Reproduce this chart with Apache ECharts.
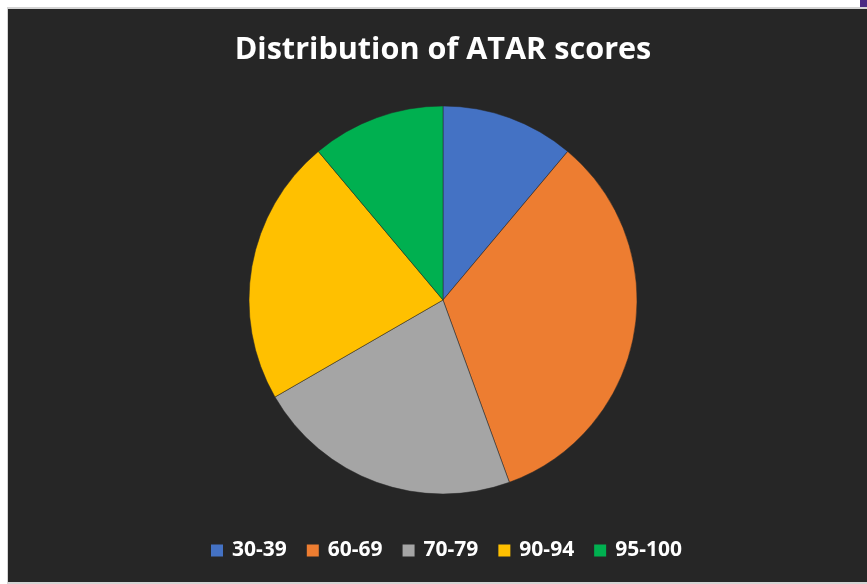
<!DOCTYPE html>
<html>
<head>
<meta charset="utf-8">
<script src="https://cdn.jsdelivr.net/npm/echarts@6/dist/echarts.min.js"></script>
<style>
html,body{margin:0;padding:0;background:#ffffff;}
#chart{width:867px;height:584px;}
</style>
</head>
<body>
<div id="chart"></div>
<script>
var titleText = 'Distribution of ATAR scores';
var categories = ['30-39', '60-69', '70-79', '90-94', '95-100'];
var values = [1, 3, 2, 2, 1];
var colors = ['#4472C4', '#ED7D31', '#A5A5A5', '#FFC000', '#00B050'];

var chart = echarts.init(document.getElementById('chart'), null, {renderer: 'canvas'});
var data = categories.map(function (c, i) {
  return {name: c, value: values[i], itemStyle: {color: colors[i]}};
});
chart.setOption({
  backgroundColor: '#ffffff',
  animation: false,
  graphic: [
    {type: 'rect', z: -10, shape: {x: 7, y: 7, width: 860, height: 577}, style: {fill: '#d4d4d4'}},
    {type: 'rect', z: -9, shape: {x: 8, y: 9, width: 859, height: 573}, style: {fill: '#262626'}},
    {type: 'rect', z: -8, shape: {x: 860, y: 0, width: 7, height: 7}, style: {fill: '#4b2a83'}}
  ],
  title: {
    text: titleText,
    left: 438,
    textAlign: 'center',
    top: 30,
    textStyle: {color: '#ffffff', fontFamily: 'Open Sans', fontWeight: 'bold', fontSize: 30.6}
  },
  legend: {
    data: categories,
    left: 204,
    top: 535,
    padding: 5,
    itemWidth: 14,
    itemHeight: 14,
    itemGap: 18,
    icon: 'rect',
    textStyle: {color: '#ffffff', fontFamily: 'Open Sans', fontWeight: 'bold', fontSize: 21, padding: [0, 0, 0, 3]}
  },
  series: [{
    type: 'pie',
    center: [443, 300],
    radius: [0, 194],
    startAngle: 90,
    clockwise: true,
    label: {show: false},
    labelLine: {show: false},
    emphasis: {disabled: true},
    itemStyle: {borderColor: '#262626', borderWidth: 0.5},
    data: data
  }]
});
</script>
</body>
</html>
